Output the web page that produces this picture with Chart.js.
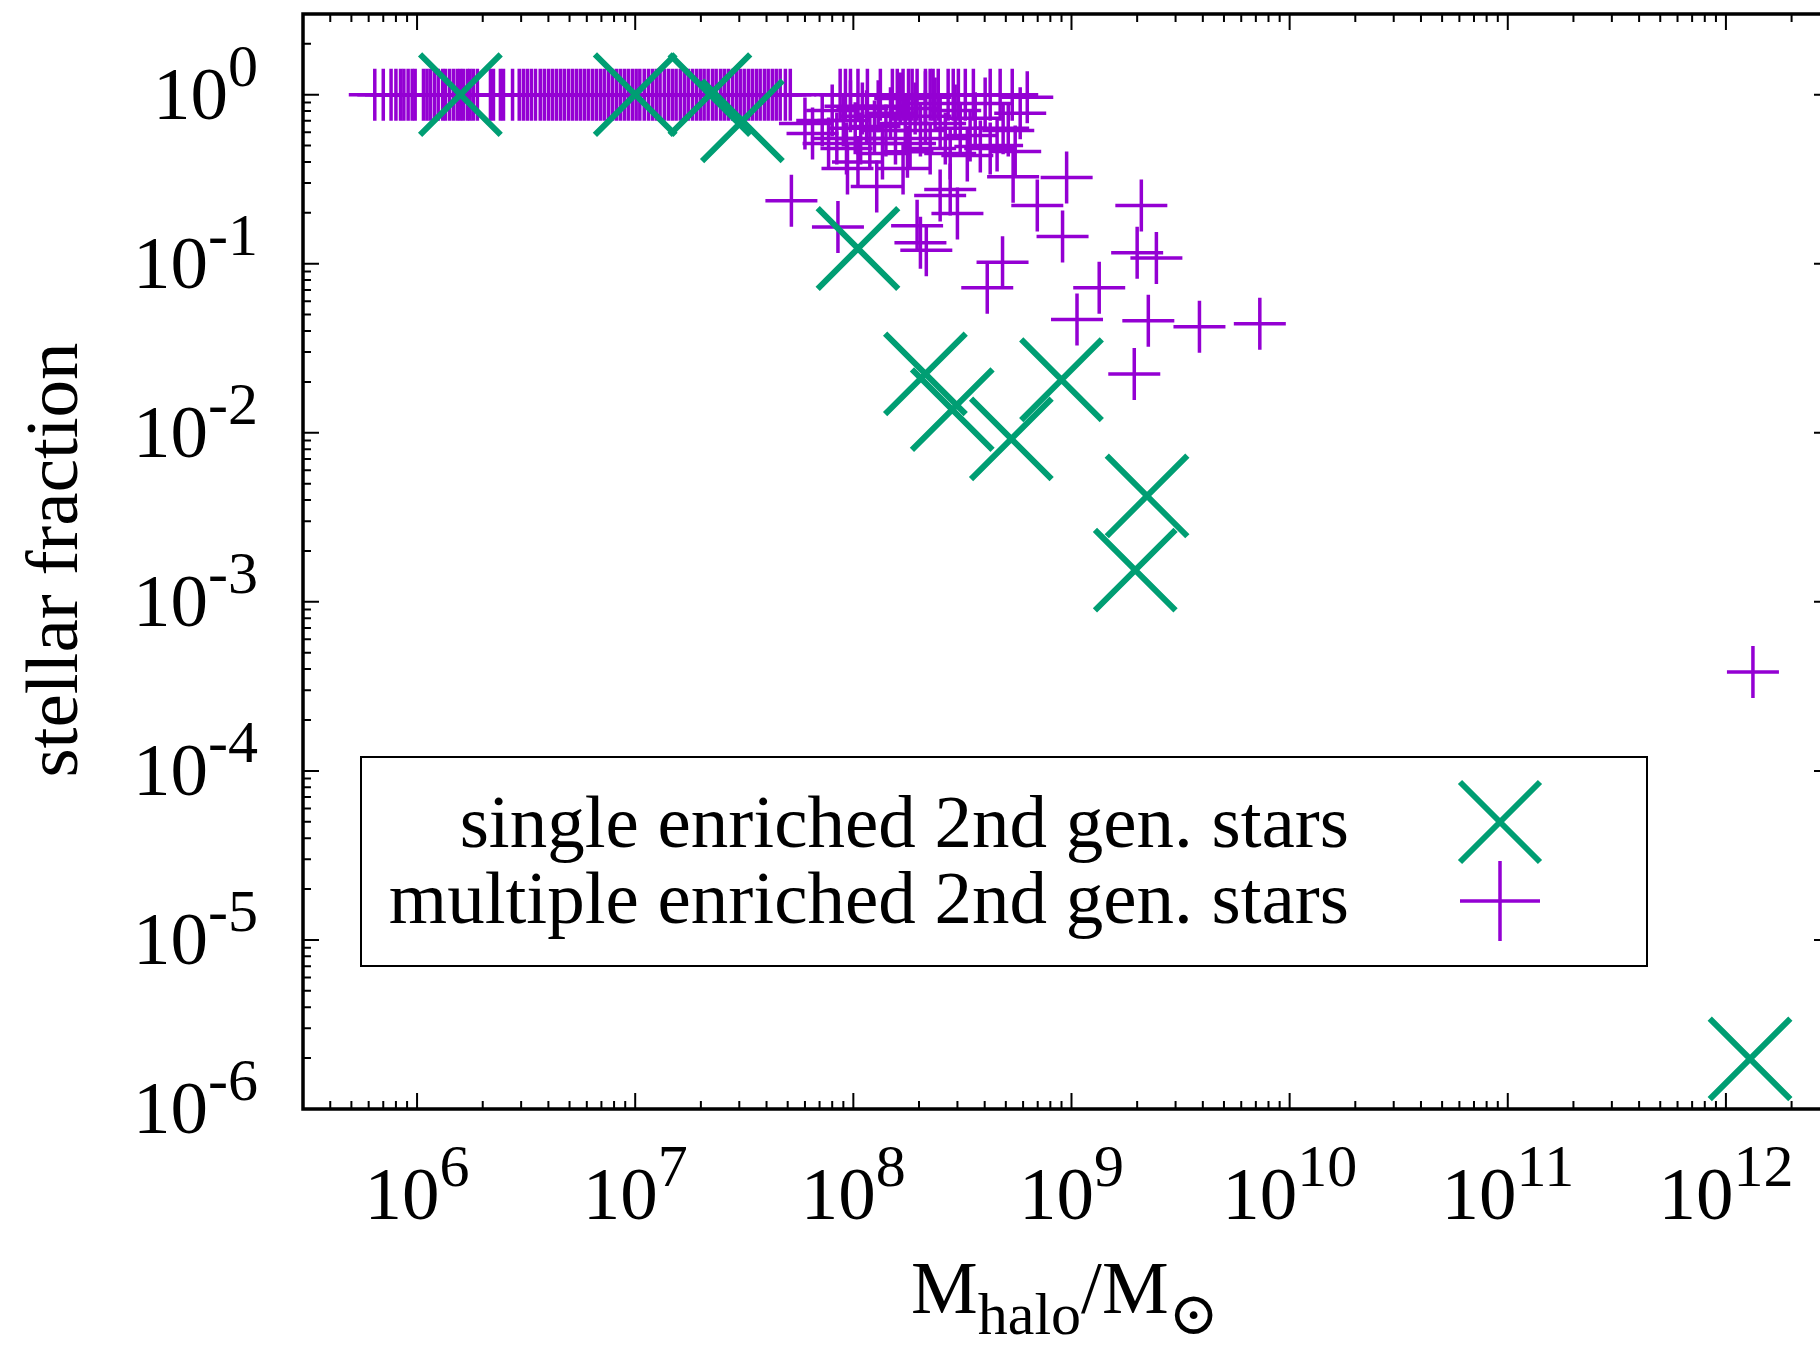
<!DOCTYPE html>
<html>
<head>
<meta charset="utf-8">
<script src="https://cdn.jsdelivr.net/npm/chart.js@4.4.0/dist/chart.umd.min.js"></script>
<style>
  html, body { margin: 0; padding: 0; background: #fff; overflow: hidden; }
  #wrap { width: 1840px; height: 1345px; }
</style>
</head>
<body>
<div id="wrap"><canvas id="myChart" width="1840" height="1345"></canvas></div>
<script>
// halos hosting a single enriched 2nd generation star
const singleMass = [1.58e6, 1.0e7, 2.2e7, 3.1e7, 1.05e8, 2.14e8, 2.84e8, 5.3e8, 9.0e8, 2.22e9, 1.96e9, 1.29e12]
const singleFrac = [1.0, 1.0, 1.0, 0.70, 0.123, 0.0223, 0.0137, 0.0092, 0.0206, 0.00423, 0.00154, 1.98e-6]

// halos hosting multiple enriched 2nd generation stars
const multiMass = [
    6.4e5, 7.0e5, 7.6e5, 8.0e5, 8.4e5, 8.7e5, 9.1e5, 9.5e5, 9.8e5, 1.07e6,
    1.11e6, 1.15e6, 1.2e6, 1.25e6, 1.31e6, 1.35e6, 1.41e6, 1.47e6, 1.53e6, 1.58e6,
    1.63e6, 1.7e6, 1.75e6, 1.81e6, 1.89e6, 2.17e6, 2.24e6, 2.41e6, 2.49e6, 2.74e6,
    2.94e6, 3.07e6, 3.2e6, 3.34e6, 3.49e6, 3.67e6, 3.83e6, 4.0e6, 4.17e6, 4.35e6,
    4.54e6, 4.73e6, 4.94e6, 5.15e6, 5.37e6, 5.6e6, 5.84e6, 6.09e6, 6.36e6, 6.63e6,
    6.92e6, 7.21e6, 7.53e6, 7.85e6, 8.19e6, 8.54e6, 8.91e6, 9.29e6, 9.7e6, 1.01e7,
    1.05e7, 1.1e7, 1.15e7, 1.2e7, 1.25e7, 1.3e7, 1.36e7, 1.42e7, 1.48e7, 1.54e7,
    1.61e7, 1.68e7, 1.75e7, 1.83e7, 1.91e7, 1.99e7, 2.07e7, 2.16e7, 2.26e7, 2.35e7,
    2.46e7, 2.56e7, 2.67e7, 2.79e7, 2.91e7, 3.03e7, 3.16e7, 3.3e7, 3.44e7, 3.59e7,
    3.74e7, 3.91e7, 4.07e7, 4.25e7, 4.43e7, 4.62e7, 4.88e7, 5.14e7,
    8.7e7, 9.2e7, 9.7e7, 1.05e8, 1.16e8, 1.33e8, 1.51e8, 1.59e8, 1.69e8, 1.79e8,
    1.86e8, 1.96e8, 2.14e8, 2.25e8, 2.32e8, 2.45e8, 2.72e8, 2.87e8, 3.03e8, 3.26e8,
    3.55e8, 4.24e8, 4.71e8, 5.35e8,
    6.0e7, 6.5e7, 7.2e7, 7.7e7, 8.0e7, 8.4e7, 9.0e7, 9.3e7, 9.7e7, 1.02e8,
    1.08e8, 1.1e8, 1.15e8, 1.19e8, 1.25e8, 1.3e8, 1.36e8, 1.41e8, 1.48e8, 1.56e8,
    1.64e8, 1.73e8, 1.82e8, 1.92e8, 2.03e8, 2.14e8, 2.14e8, 2.25e8, 2.37e8, 2.5e8,
    2.64e8, 2.78e8, 2.93e8, 3.09e8, 3.33e8, 3.43e8, 3.62e8, 3.82e8, 4.02e8, 4.24e8,
    4.56e8, 4.86e8, 5.13e8, 5.52e8, 5.82e8, 6.27e8,
    5.2e7, 8.5e7, 1.96e8, 2.03e8, 2.16e8, 2.5e8, 2.78e8, 3.0e8, 4.83e8, 4.11e8,
    9.5e8, 6.97e8, 9.1e8, 5.4e8, 1.69e8, 1.77e8, 1.28e8, 9.4e7, 1.05e8,
    2.09e9, 2.0e9, 2.45e9, 1.34e9, 1.06e9, 2.25e9, 3.86e9, 7.3e9, 1.94e9, 1.33e12
]
const multiFrac = [
    1, 1, 1, 1, 1, 1, 1, 1, 1, 1,
    1, 1, 1, 1, 1, 1, 1, 1, 1, 1,
    1, 1, 1, 1, 1, 1, 1, 1, 1, 1,
    1, 1, 1, 1, 1, 1, 1, 1, 1, 1,
    1, 1, 1, 1, 1, 1, 1, 1, 1, 1,
    1, 1, 1, 1, 1, 1, 1, 1, 1, 1,
    1, 1, 1, 1, 1, 1, 1, 1, 1, 1,
    1, 1, 1, 1, 1, 1, 1, 1, 1, 1,
    1, 1, 1, 1, 1, 1, 1, 1, 1, 1,
    1, 1, 1, 1, 1, 1, 1, 1,
    1, 1, 1, 1, 1, 1, 1, 1, 1, 1,
    1, 1, 1, 1, 1, 1, 1, 1, 1, 1,
    1, 1, 1, 1,
    0.676, 0.59, 0.704, 0.515, 0.807, 0.551, 0.704, 0.481, 0.853, 0.632,
    0.551, 0.829, 0.744, 0.515, 0.649, 0.853, 0.449, 0.614, 0.775, 0.551,
    0.95, 0.676, 0.515, 0.829, 0.614, 0.744, 0.964, 0.481, 0.888, 0.676,
    0.551, 0.449, 0.807, 0.632, 0.437, 0.574, 0.724, 0.494, 0.888, 0.481,
    0.501, 0.632, 0.614, 0.461, 0.775, 0.964,
    0.236, 0.165, 0.168, 0.133, 0.12, 0.253, 0.275, 0.198, 0.102, 0.072,
    0.324, 0.221, 0.145, 0.327, 0.366, 0.46, 0.286, 0.366, 0.40,
    0.221, 0.116, 0.108, 0.072, 0.0467, 0.046, 0.0424, 0.0442, 0.0223, 3.84e-4
]

const xRange = [3e5, 3e12]
const yRange = [1e-6, 3]
const xTickExps = [6, 7, 8, 9, 10, 11, 12]
const yTickExps = [0, -1, -2, -3, -4, -5, -6]
const legendLabels = ['single enriched 2nd gen. stars', 'multiple enriched 2nd gen. stars']

const GREEN = '#009e73'
const PURPLE = '#9400d3'
const SERIF = "'Liberation Serif', 'Times New Roman', serif"
const FS = 75       // normal text size
const FS_SUP = 60   // super/subscript size

function toPoints(xs, ys){
    return xs.map((x, i) => ({x: x, y: ys[i]}))
}

// "10" followed by a raised exponent, gnuplot style
function drawPower(ctx, exp, x, baseline, align){
    let base = '10', sup = String(exp)
    ctx.font = FS + 'px ' + SERIF
    let wb = ctx.measureText(base).width
    ctx.font = FS_SUP + 'px ' + SERIF
    let ws = ctx.measureText(sup).width
    let total = wb + ws
    let left = align == 'right' ? x - total : x - total / 2
    ctx.textAlign = 'left'
    ctx.textBaseline = 'alphabetic'
    ctx.font = FS + 'px ' + SERIF
    ctx.fillText(base, left, baseline)
    ctx.font = FS_SUP + 'px ' + SERIF
    ctx.fillText(sup, left + wb, baseline - 33)
}

const gnuplotFrame = {
    id: 'gnuplotFrame',
    afterDraw(chart){
        const ctx = chart.ctx
        const area = chart.chartArea
        const xs = chart.scales.x, ys = chart.scales.y
        ctx.save()
        ctx.fillStyle = '#000'
        ctx.strokeStyle = '#000'

        // minor + major ticks on all four sides, pointing inward
        ctx.lineWidth = 2
        ctx.beginPath()
        for(let d = 5; d <= 12; d++){
            for(let k = 1; k <= 9; k++){
                let v = k * Math.pow(10, d)
                if(v < xRange[0] || v > xRange[1]) continue
                let px = xs.getPixelForValue(v)
                let len = k == 1 ? 16 : 8
                ctx.moveTo(px, area.bottom); ctx.lineTo(px, area.bottom - len)
                ctx.moveTo(px, area.top); ctx.lineTo(px, area.top + len)
            }
        }
        for(let d = -6; d <= 0; d++){
            for(let k = 1; k <= 9; k++){
                let v = k * Math.pow(10, d)
                if(v < yRange[0] || v > yRange[1]) continue
                let py = ys.getPixelForValue(v)
                let len = k == 1 ? 16 : 8
                ctx.moveTo(area.left, py); ctx.lineTo(area.left + len, py)
                ctx.moveTo(area.right, py); ctx.lineTo(area.right - len, py)
            }
        }
        ctx.stroke()

        // border
        ctx.lineWidth = 3.5
        ctx.strokeRect(area.left, area.top, area.right - area.left, area.bottom - area.top)

        // tick labels
        for(let e of xTickExps){
            let px = xs.getPixelForValue(Math.pow(10, e))
            drawPower(ctx, e, px, 1219, 'center')
        }
        for(let e of yTickExps){
            let py = ys.getPixelForValue(Math.pow(10, e))
            drawPower(ctx, e, 258, py + 24, 'right')
        }

        // x axis title: M_halo / M_sun
        let parts = [
            {t: 'M', f: FS + 'px ' + SERIF, dy: 0},
            {t: 'halo', f: FS_SUP + 'px ' + SERIF, dy: 21},
            {t: '/M', f: FS + 'px ' + SERIF, dy: 0},
            {t: '\u2299', f: FS_SUP + "px 'DejaVu Serif', serif", dy: 21}
        ]
        let total = 0
        for(let p of parts){ ctx.font = p.f; p.w = ctx.measureText(p.t).width; total += p.w }
        let cx = 1065 - total / 2
        ctx.textAlign = 'left'
        ctx.textBaseline = 'alphabetic'
        for(let p of parts){
            ctx.font = p.f
            ctx.fillText(p.t, cx, 1313 + p.dy)
            cx += p.w
        }

        // y axis title
        ctx.save()
        ctx.translate(77, 560)
        ctx.rotate(-Math.PI / 2)
        ctx.font = FS + 'px ' + SERIF
        ctx.textAlign = 'center'
        ctx.fillText('stellar fraction', 0, 0)
        ctx.restore()

        // key box
        ctx.lineWidth = 2
        ctx.strokeRect(361, 757, 1286, 209)
        ctx.font = FS + 'px ' + SERIF
        ctx.textAlign = 'right'
        ctx.fillText(legendLabels[0], 1349, 847)
        ctx.fillText(legendLabels[1], 1349, 923)

        ctx.lineCap = 'butt'
        ctx.strokeStyle = GREEN
        ctx.lineWidth = 6
        ctx.beginPath()
        ctx.moveTo(1460, 782); ctx.lineTo(1540, 862)
        ctx.moveTo(1460, 862); ctx.lineTo(1540, 782)
        ctx.stroke()
        ctx.strokeStyle = PURPLE
        ctx.lineWidth = 3.5
        ctx.beginPath()
        ctx.moveTo(1460, 901); ctx.lineTo(1540, 901)
        ctx.moveTo(1500, 861); ctx.lineTo(1500, 941)
        ctx.stroke()

        ctx.restore()
    }
}

const ctx = document.getElementById('myChart').getContext('2d')
const myChart = new Chart(ctx, {
    type: 'scatter',
    data: {
        datasets: [{
            label: legendLabels[0],
            data: toPoints(singleMass, singleFrac),
            pointStyle: 'crossRot',
            pointRadius: 57,
            pointHoverRadius: 57,
            borderColor: GREEN,
            backgroundColor: GREEN,
            borderWidth: 6,
            pointHoverBorderWidth: 6,
            clip: false
        },
        {
            label: legendLabels[1],
            data: toPoints(multiMass, multiFrac),
            pointStyle: 'cross',
            pointRadius: 26,
            pointHoverRadius: 26,
            borderColor: PURPLE,
            backgroundColor: PURPLE,
            borderWidth: 3.5,
            pointHoverBorderWidth: 3.5,
            clip: false
        }]
    },
    options: {
        responsive: false,
        animation: false,
        devicePixelRatio: 1,
        events: [],
        layout: {
            autoPadding: false,
            padding: {left: 303, top: 14, right: 10, bottom: 236}
        },
        plugins: {
            legend: {display: false},
            tooltip: {enabled: false}
        },
        scales: {
            x: {type: 'logarithmic', min: xRange[0], max: xRange[1], display: false},
            y: {type: 'logarithmic', min: yRange[0], max: yRange[1], display: false}
        }
    },
    plugins: [gnuplotFrame]
})
</script>
</body>
</html>
